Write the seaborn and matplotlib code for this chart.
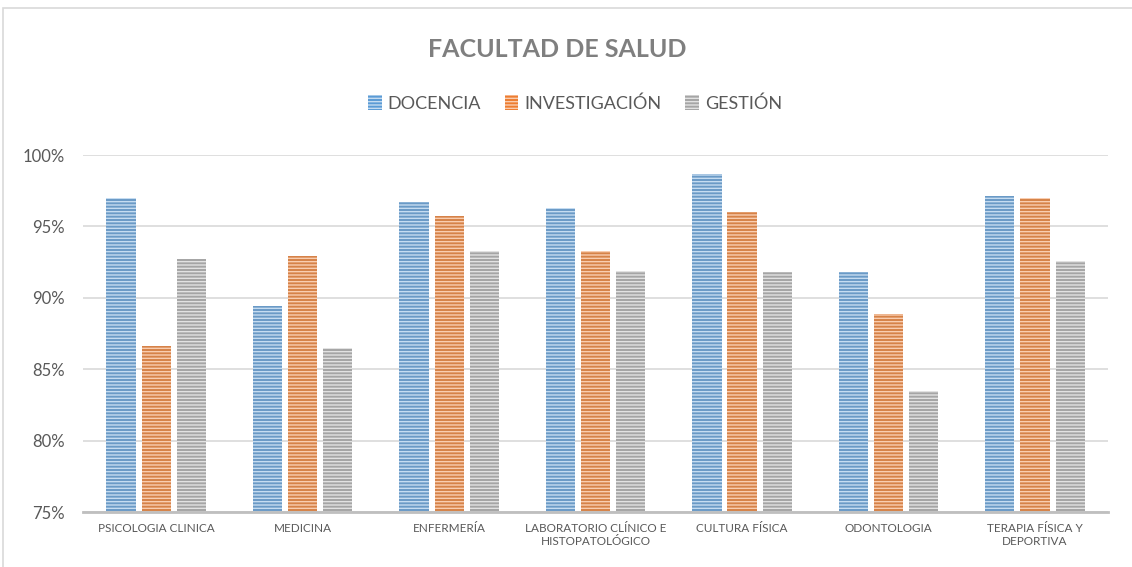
import matplotlib
matplotlib.use("Agg")
import matplotlib.pyplot as plt
from matplotlib.patches import Patch, Rectangle
from matplotlib.ticker import FuncFormatter
import pandas as pd
import seaborn as sns

programas = ["PSICOLOGIA CLINICA", "MEDICINA", "ENFERMERÍA",
             "LABORATORIO CLÍNICO E\nHISTOPATOLÓGICO", "CULTURA FÍSICA",
             "ODONTOLOGIA", "TERAPIA FÍSICA Y\nDEPORTIVA"]
series = ["DOCENCIA", "INVESTIGACIÓN", "GESTIÓN"]
docencia = [97.0, 89.4, 96.7, 96.3, 98.7, 91.8, 97.1]
investigacion = [86.6, 92.9, 95.7, 93.3, 96.0, 88.9, 97.0]
gestion = [92.7, 86.5, 93.3, 91.9, 91.8, 83.5, 92.6]

colores = ["#5B9BD5", "#ED7D31", "#A5A5A5"]
claros = ["#C5DCF1", "#F9CDB0", "#E2E2E2"]

df = pd.DataFrame({
    "programa": programas * 3,
    "serie": [series[0]] * 7 + [series[1]] * 7 + [series[2]] * 7,
    "valor": docencia + investigacion + gestion,
})

sns.set_style("white")
plt.rcParams['font.family'] = ['Lato', 'DejaVu Sans']
plt.rcParams['hatch.linewidth'] = 1.0

fig = plt.figure(figsize=(11.32, 5.67), dpi=100)
ax = fig.add_axes([0.0733, 0.097, 0.9057, 0.6296])

sns.barplot(data=df, x="programa", y="valor", hue="serie", hue_order=series,
            palette=colores, width=0.72, gap=0.17, ax=ax, legend=False,
            bottom=0)

# rayado horizontal de las barras
for i, cont in enumerate(ax.containers):
    for bar in cont:
        bar.set_hatch("-----")
        bar.set_edgecolor(claros[i])
        bar.set_linewidth(0)

ax.set_ylim(75, 100)
ax.set_yticks([75, 80, 85, 90, 95, 100])
ax.yaxis.set_major_formatter(FuncFormatter(lambda v, p: "{:.0f}%".format(v)))
ax.grid(axis="y", color="#D9D9D9", linewidth=1.2)
ax.set_axisbelow(True)
for s in ["left", "right", "top"]:
    ax.spines[s].set_visible(False)
ax.spines["bottom"].set_color("#BFBFBF")
ax.spines["bottom"].set_linewidth(2)
ax.set_xlabel("")
ax.set_ylabel("")
ax.tick_params(axis="y", length=0, labelsize=12, labelcolor="#595959", pad=13)
ax.tick_params(axis="x", length=0, labelsize=8.5, labelcolor="#595959", pad=8)
ax.set_xlim(-0.5, 6.5)

fig.text(0.492, 0.913, "FACULTAD DE SALUD", ha="center", va="center",
         fontsize=18, fontweight="bold", color="#7F7F7F")

handles = [Patch(facecolor=colores[i], edgecolor=claros[i], hatch="-----",
                 linewidth=0) for i in range(3)]
fig.legend(handles, series, loc="center", bbox_to_anchor=(0.508, 0.817),
           ncol=3, frameon=False, fontsize=13, labelcolor="#595959",
           handlelength=0.75, handleheight=0.9, handletextpad=0.35,
           columnspacing=1.3)

fig.patches.append(Rectangle((3 / 1132, -0.05), 1.1, 1.05 - 8 / 567,
                             transform=fig.transFigure, fill=False,
                             edgecolor="#D9D9D9", linewidth=1.2))

fig.savefig("out.png", dpi=100)
